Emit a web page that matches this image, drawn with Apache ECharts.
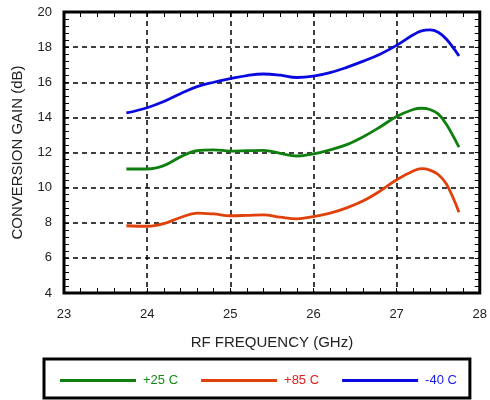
<!DOCTYPE html>
<html>
<head>
<meta charset="utf-8">
<script src="https://cdn.jsdelivr.net/npm/echarts@6/dist/echarts.min.js"></script>
<style>
  html, body { margin: 0; padding: 0; background: #fff; }
  #chart { width: 490px; height: 400px; }
</style>
</head>
<body>
<div id="chart"></div>
<script>
// RF frequency sample points (GHz), shared by all three curves
const freqGHz = [23.75, 24.0, 24.2, 24.4, 24.6, 24.8, 25.0, 25.2, 25.4, 25.6, 25.8,
  26.0, 26.2, 26.4, 26.6, 26.8, 27.0, 27.2, 27.3, 27.4, 27.5, 27.6, 27.75];

// conversion gain (dB)
const gain25C = [11.06, 11.06, 11.25, 11.75, 12.1, 12.15, 12.08, 12.1, 12.12, 11.95, 11.8,
  11.92, 12.15, 12.45, 12.9, 13.45, 14.05, 14.45, 14.52, 14.45, 14.2, 13.6, 12.3];
const gain85C = [7.83, 7.8, 7.95, 8.3, 8.55, 8.5, 8.4, 8.42, 8.45, 8.32, 8.22,
  8.35, 8.55, 8.85, 9.25, 9.8, 10.45, 10.95, 11.08, 11.0, 10.75, 10.2, 8.6];
const gainM40C = [14.25, 14.55, 14.9, 15.35, 15.75, 16.0, 16.2, 16.38, 16.47, 16.4, 16.27,
  16.35, 16.55, 16.85, 17.2, 17.6, 18.1, 18.7, 18.92, 18.98, 18.85, 18.45, 17.5];

const seriesNames = ['+25 C', '+85 C', '-40 C'];
const lineColors = ['#0f800f', '#e0400a', '#0a0ae0'];
const textColors = ['#168a16', '#e0201a', '#1a1ae6'];

const font = 'Liberation Sans, Arial, Helvetica, sans-serif';

function pairs(ys) {
  return freqGHz.map(function (x, i) { return [x, ys[i]]; });
}

const chart = echarts.init(document.getElementById('chart'));

const gridLine = {
  show: true,
  lineStyle: { color: '#000', width: 1.5, type: [5, 4] }
};
const minor = {
  show: true,
  splitNumber: 5,
  length: 5,
  lineStyle: { color: '#000', width: 1 }
};
const hideSide = {
  axisLine: { show: false },
  axisLabel: { show: false },
  splitLine: { show: false },
  axisTick: { show: true, inside: true, length: 5, lineStyle: { color: '#000' } },
  minorTick: minor
};

const option = {
  animation: false,
  grid: {
    show: true,
    left: 64, right: 9, top: 12, bottom: 107,
    borderColor: '#000',
    borderWidth: 3,
    backgroundColor: 'transparent'
  },
  xAxis: [{
    type: 'value',
    min: 23, max: 28, interval: 1,
    name: 'RF FREQUENCY (GHz)',
    nameLocation: 'middle',
    nameGap: 42,
    nameTextStyle: { color: '#222', fontSize: 15, fontFamily: font },
    axisLine: { show: false },
    axisTick: { show: true, inside: true, length: 5, lineStyle: { color: '#000' } },
    minorTick: minor,
    axisLabel: { color: '#222', fontSize: 13, fontFamily: font, margin: 15 },
    splitLine: gridLine
  }, Object.assign({
    type: 'value', position: 'top', min: 23, max: 28, interval: 1
  }, hideSide)],
  yAxis: [{
    type: 'value',
    min: 4, max: 20, interval: 2,
    name: 'CONVERSION GAIN (dB)',
    nameLocation: 'middle',
    nameGap: 39,
    nameTextStyle: { color: '#222', fontSize: 15, fontFamily: font },
    axisLine: { show: false },
    axisTick: { show: true, inside: true, length: 5, lineStyle: { color: '#000' } },
    minorTick: minor,
    axisLabel: { color: '#222', fontSize: 13, fontFamily: font, margin: 12 },
    splitLine: gridLine
  }, Object.assign({
    type: 'value', position: 'right', min: 4, max: 20, interval: 2
  }, hideSide)],
  legend: {
    left: 44,
    top: 359,
    width: 429,
    padding: [15, 13, 11, 16],
    borderColor: '#000',
    borderWidth: 3,
    icon: 'rect',
    itemWidth: 76,
    itemHeight: 3,
    itemGap: 23,
    textStyle: { fontSize: 13, fontFamily: font, padding: [0, 0, 0, 2] },
    data: seriesNames.map(function (n, i) {
      return { name: n, textStyle: { color: textColors[i] } };
    })
  },
  series: [gain25C, gain85C, gainM40C].map(function (ys, i) {
    return {
      name: seriesNames[i],
      type: 'line',
      smooth: 0.4,
      symbol: 'none',
      data: pairs(ys),
      itemStyle: { color: lineColors[i] },
      lineStyle: { color: lineColors[i], width: 2.8 }
    };
  })
};

chart.setOption(option);
</script>
</body>
</html>
